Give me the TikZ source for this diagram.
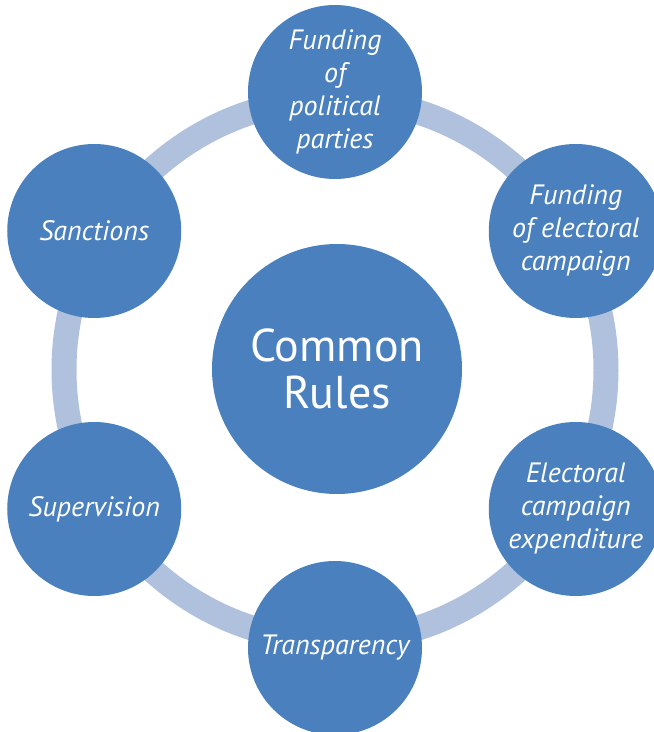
\documentclass[tikz,border=0pt]{standalone}
\usepackage{fontspec}
\setsansfont{PT Sans}
\usepackage{tikz}
\usetikzlibrary{calc}
\definecolor{disc}{HTML}{4A80BE}
\definecolor{ring}{HTML}{AFC1DC}
\definecolor{text}{HTML}{FFFFFF}
\tikzset{
  ringline/.style={draw=ring, line width=25pt},
  hub/.style={circle, fill=disc, minimum size=250pt, inner sep=0pt, text=text,
    align=center, font=\sffamily\fontsize{46}{47}\selectfont},
  sat/.style={circle, fill=disc, minimum size=174pt, inner sep=0pt, text=text,
    align=center, font=\sffamily\itshape\fontsize{28}{33}\selectfont}
}
\begin{document}
\begin{tikzpicture}[x=1pt, y=1pt]
  \useasboundingbox (0,0) rectangle (654,732);
  \clip (0,0) rectangle (654,732);
  \coordinate (O) at (335,362);
  \draw[ringline] (O) circle (271pt);
  \node[hub] (rules) at (337,363) {Common\\Rules};
  \node[sat] (parties) at ($(O)+(90:278)$) {Funding\\of\\political\\parties};
  \node[sat] (campaign) at ($(O)+(30:278)$) {Funding\\of electoral\\campaign};
  \node[sat] (expend) at ($(O)+(-30:278)$) {Electoral\\campaign\\expenditure};
  \node[sat] (transp) at ($(O)+(-90:278)$) {Transparency};
  \node[sat] (superv) at ($(O)+(-150:278)$) {Supervision};
  \node[sat] (sanct) at ($(O)+(150:278)$) {Sanctions};
\end{tikzpicture}
\end{document}
